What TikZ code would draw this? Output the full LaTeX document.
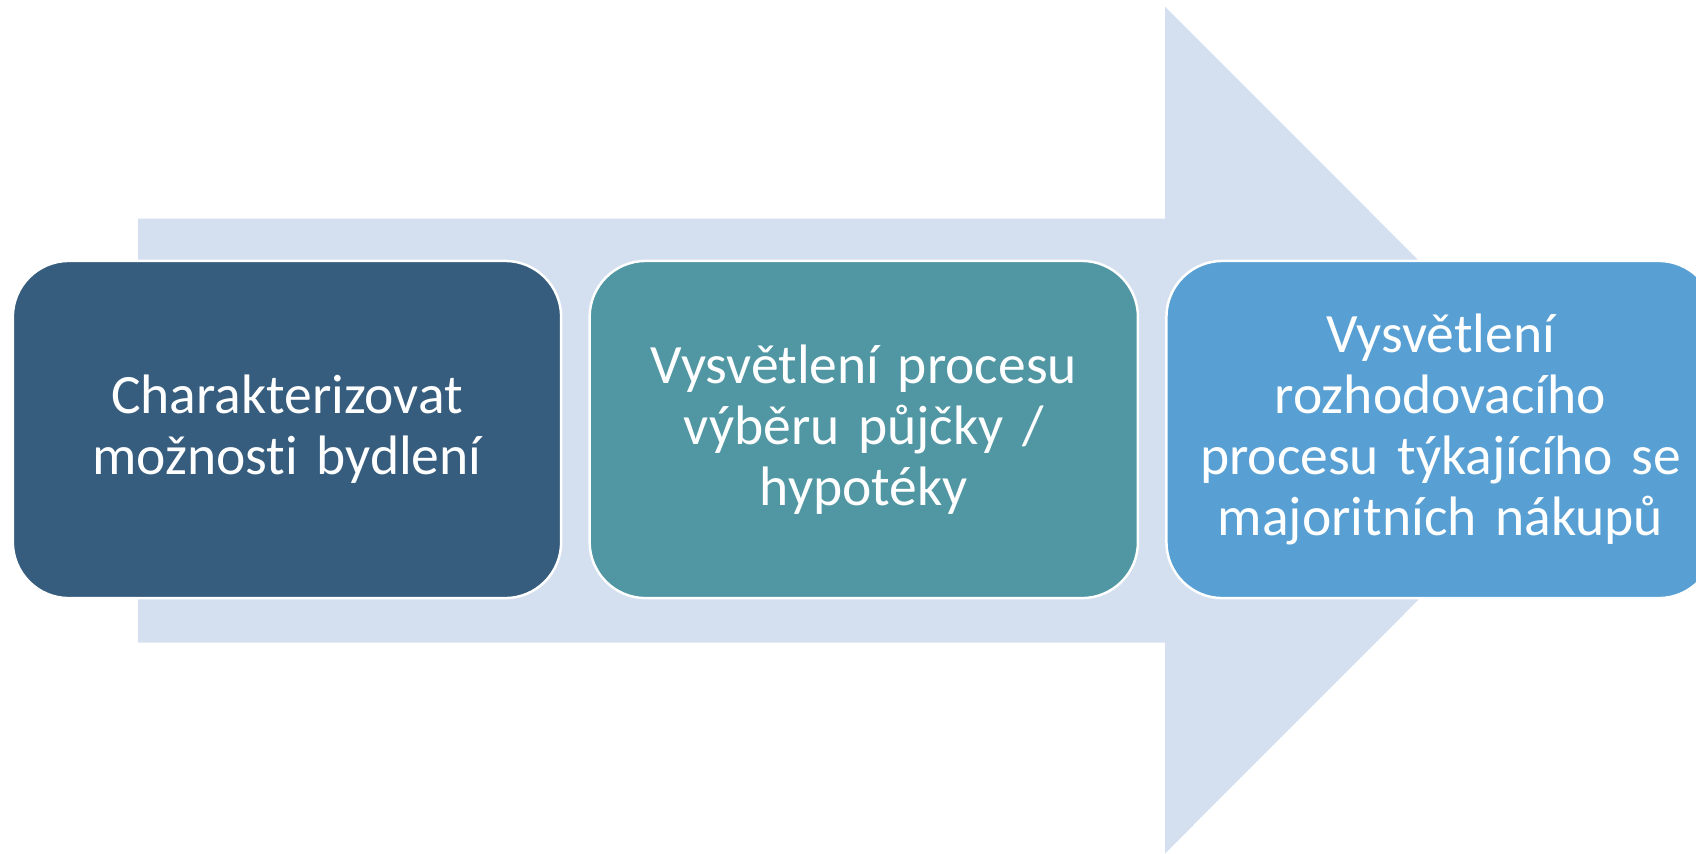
\documentclass[tikz,border=0pt]{standalone}
\usepackage{fontspec}
\setmainfont{Carlito}[Ligatures=NoCommon]
\usetikzlibrary{positioning}
\definecolor{arrowbg}{RGB}{212,224,239}
\definecolor{stepone}{RGB}{54,93,126}
\definecolor{steptwo}{RGB}{80,151,163}
\definecolor{stepthree}{RGB}{88,160,212}
\begin{document}
\begin{tikzpicture}[x=0.01cm,y=-0.01cm,
    stage/.style={draw=white,line width=0.7pt,rounded corners=0.56cm,
        minimum width=5.48cm,minimum height=3.37cm,text width=5.2cm,
        align=center,text=white,inner sep=0pt,
        font=\fontsize{15.8}{17.4}\selectfont}]
    \useasboundingbox (0,0) rectangle (1696,853);
    \clip (0,0) rectangle (1696,853);

    % big background arrow
    \fill [arrowbg] (138,218.5)--(1165,218.5)--(1165,6.5)--(1588,430)--(1165,853.5)--(1165,642.5)--(138,642.5)--cycle;

    \node [stage,fill=stepone] (bydleni) at (287,429.5) {Charakterizovat\\možnosti bydlení};
    \node [stage,fill=steptwo,right=0.26cm of bydleni] (pujcka) {Vysvětlení procesu\\výběru půjčky /\\hypotéky};
    \node [stage,fill=stepthree,right=0.26cm of pujcka] (nakupy) {Vysvětlení\\rozhodovacího\\procesu týkajícího se\\majoritních nákupů};
\end{tikzpicture}
\end{document}
